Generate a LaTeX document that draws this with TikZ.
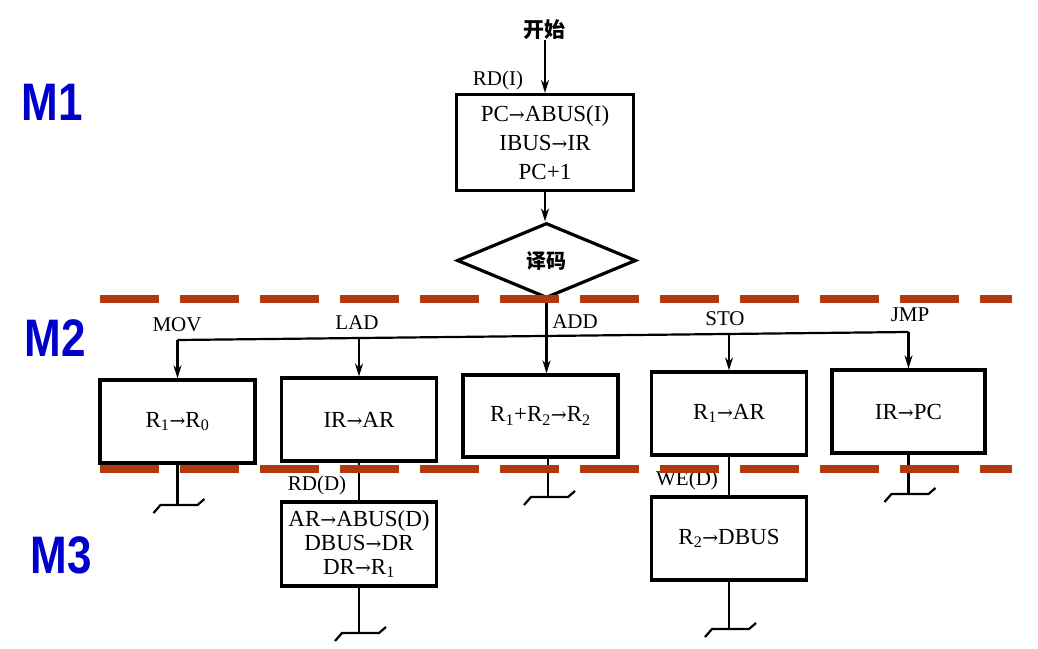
\documentclass[tikz,border=0pt]{standalone}
\usepackage{graphicx}
\usepackage{fontspec}
\setmainfont{Liberation Serif}
\newfontfamily\cjk{Noto Sans CJK SC}
\newfontfamily\msans{Liberation Sans}
\newfontfamily\arfont{DejaVu Serif}
\newcommand\toarr{{\arfont\fontsize{19}{20}\selectfont →}}
\usetikzlibrary{shapes.geometric,arrows.meta}
\definecolor{mblue}{RGB}{0,0,204}
\definecolor{sepred}{RGB}{178,56,16}
\begin{document}
\begin{tikzpicture}[x=1pt,y=-1pt,
  box/.style={draw, line width=3.2pt, minimum width=155pt, minimum height=83pt,
    inner sep=0pt, align=center, font=\fontsize{23}{24}\selectfont},
  lbl/.style={font=\fontsize{21}{24}\selectfont, inner sep=0pt},
  conn/.style={line width=2.2pt},
  arr/.style={conn, -{Stealth[length=13pt,width=8pt]}},
  mlbl/.style={text=mblue, inner sep=0pt, font=\msans\bfseries\fontsize{44}{44}\selectfont},
  sep/.style={line width=8pt, draw=sepred, dash pattern=on 59pt off 21pt},
  termpic/.pic={\draw[conn] (-24,8)--(-17,0)--(20,0)--(27,-6);}
]
\useasboundingbox (0,0) rectangle (1038,648);

% cycle labels
\node[mlbl] (m1) at (52,102) {\scalebox{1}[1.2]{M1}};
\node[mlbl] (m2) at (55,338) {\scalebox{1}[1.2]{M2}};
\node[mlbl] (m3) at (61,555) {\scalebox{1}[1.2]{M3}};

% fetch
\node[lbl, font=\cjk\bfseries\fontsize{21}{24}\selectfont] (start) at (544,30) {开始};
\node[box, minimum width=177pt, minimum height=96pt, font=\fontsize{23}{29}\selectfont] (fetch) at (545,142.5) {PC\toarr ABUS(I)\\IBUS\toarr IR\\PC+1};
\node[lbl] (rdi) at (498,80) {RD(I)};
\node[draw, diamond, line width=3.2pt, minimum width=179pt, minimum height=75pt, aspect=2.4,
  inner sep=0pt, font=\cjk\bfseries\fontsize{20}{24}\selectfont] (dec) at (546.5,260.5) {译码};

% execute boxes
\node[box] (b1) at (177.5,421.5) {R\textsubscript{1}\toarr R\textsubscript{0}};
\node[box] (b2) at (359,419.5) {IR\toarr AR};
\node[box, minimum height=82pt] (b3) at (540.5,416) {R\textsubscript{1}+R\textsubscript{2}\toarr R\textsubscript{2}};
\node[box] (b4) at (729,413.5) {R\textsubscript{1}\toarr AR};
\node[box, minimum width=153pt] (b5) at (908.5,411.5) {IR\toarr PC};
\node[box, minimum height=84pt] (b6) at (359,544) {AR\toarr ABUS(D)\\DBUS\toarr DR\\DR\toarr R\textsubscript{1}};
\node[box] (b7) at (729,538.5) {R\textsubscript{2}\toarr DBUS};

% branch labels
\node[lbl] (lmov) at (177,325) {MOV};
\node[lbl] (llad) at (357,323) {LAD};
\node[lbl] (ladd) at (575,322) {ADD};
\node[lbl] (lsto) at (725,319) {STO};
\node[lbl] (ljmp) at (910,315) {JMP};
\node[lbl] (rdd) at (317,485) {RD(D)};
\node[lbl] (wed) at (687,480) {WE(D)};

% connectors
\draw[arr] (fetch.north |- start.south) -- (fetch.north);
\draw[arr] (fetch.south) -- (fetch.south |- dec.north);
\coordinate (bl) at (177.5,340);
\coordinate (j2) at (359,338);
\coordinate (j4) at (729,334);
\coordinate (br) at (908.5,332);
\draw[conn] (bl) -- (br);
\draw[arr] (bl) -- (b1.north);
\draw[arr] (j2) -- (b2.north);
\draw[arr] (dec.south) -- (dec.south |- b3.north);
\draw[arr] (j4) -- (b4.north);
\draw[arr] (br) -- (b5.north);

% lower connections and end marks
\coordinate (t1) at (177.5,505);
\coordinate (t6) at (359,633);
\coordinate (t3) at (548,497);
\coordinate (t7) at (729,629);
\coordinate (t5) at (908.5,494);
\draw[conn] (b1.south) -- (t1);
\draw[conn] (b2.south) -- (b6.north);
\draw[conn] (b6.south) -- (t6);
\draw[conn] (t3 |- b3.south) -- (t3);
\draw[conn] (b4.south) -- (b7.north);
\draw[conn] (b7.south) -- (t7);
\draw[conn] (b5.south) -- (t5);
\pic at (t1) {termpic};
\pic at (t6) {termpic};
\pic at (t3) {termpic};
\pic at (t7) {termpic};
\pic at (t5) {termpic};

% machine cycle separators
\draw[sep] (100,299) -- (1012,299);
\draw[sep] (100,469) -- (1012,469);
\end{tikzpicture}
\end{document}
